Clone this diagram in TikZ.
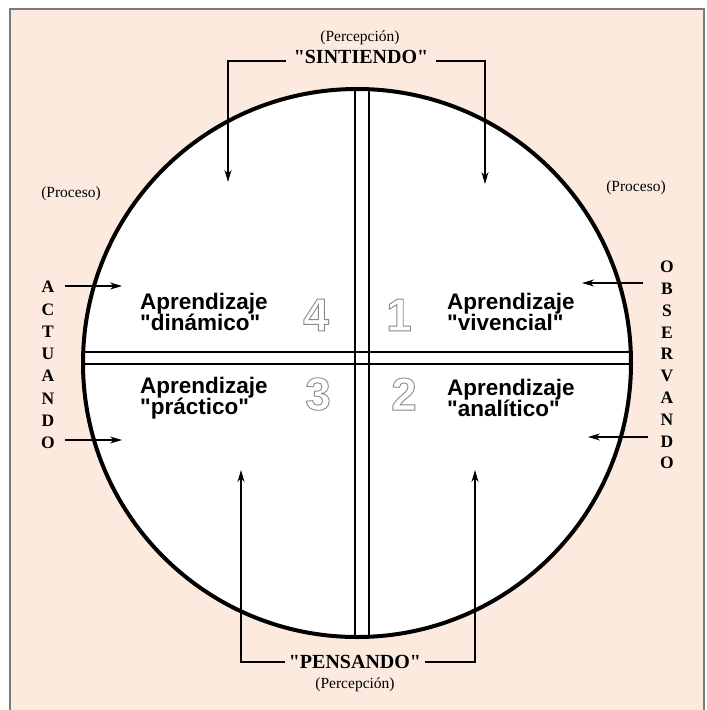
\documentclass[tikz,border=0pt]{standalone}
\usepackage{fontspec}
\setmainfont{Liberation Serif}
\newfontfamily\helv{Liberation Sans}
\usetikzlibrary{arrows.meta,positioning}
\definecolor{peach}{HTML}{FCEADE}
\definecolor{framegray}{HTML}{7A7A7A}
\newcommand{\hollow}[1]{\special{pdf:literal direct 1 Tr 0.9 w 0.54 0.54 0.54 RG}#1\special{pdf:literal direct 0 Tr}}

\begin{document}
\begin{tikzpicture}[x=1pt, y=-1pt,
    arr/.style={-{Stealth[length=12pt,width=7pt]}, line width=1.3pt},
    quad/.style={font=\helv\bfseries\fontsize{22.5}{21.5}\selectfont, align=left, anchor=west, inner sep=0pt},
    digit/.style={font=\helv\bfseries\fontsize{46}{46}\selectfont, inner sep=0pt},
    small/.style={font=\fontsize{15.5}{15.5}\selectfont, inner sep=0pt},
    big/.style={font=\bfseries\fontsize{20}{20}\selectfont, inner sep=0pt},
    vletter/.style={font=\bfseries\fontsize{17.5}{17.5}\selectfont, inner sep=0pt}
  ]
    \useasboundingbox (0,0) rectangle (707,710);
    % sheet and frame
    \fill[peach] (10,9) rectangle (704,710);
    \draw[framegray, line width=1.5pt] (10,710) -- (10,9) -- (704,9) -- (704,710);

    % the wheel
    \node[circle, draw, line width=4pt, fill=white, minimum size=548pt, inner sep=0pt] (wheel) at (357,363) {};
    \begin{scope}
      \clip (357,363) circle (272pt);
      \foreach \x in {355,369} \draw[line width=1.8pt] (\x,80) -- (\x,650);
      \foreach \y in {352,364} \draw[line width=1.8pt] (70,\y) -- (650,\y);
    \end{scope}

    % quadrants
    \node[digit] (n4) at (316,315) {\hollow{4}};
    \node[digit] (n1) at (399,315) {\hollow{1}};
    \node[digit] (n3) at (318,394) {\hollow{3}};
    \node[digit] (n2) at (404,394) {\hollow{2}};
    \node[quad] (q4) at (140,312) {Aprendizaje\\"dinámico"};
    \node[quad] (q1) at (447,312) {Aprendizaje\\"vivencial"};
    \node[quad] (q3) at (140,398) {Aprendizaje\\"práctico"};
    \node[quad] (q2) at (447,398) {Aprendizaje\\"analítico"};

    % labels
    \node[small] (percT) at (360,38) {(Percepción)};
    \node[big] (sint) at (361,57) {\textquotedbl SINTIENDO\textquotedbl};
    \node[big] (pens) at (355,662) {\textquotedbl PENSANDO\textquotedbl};
    \node[small] (percB) at (355,685) {(Percepción)};
    \node[small] (procL) at (71,194) {(Proceso)};
    \node[small] (procR) at (636,188) {(Proceso)};
    \foreach \ch [count=\i] in {A,C,T,U,A,N,D,O}
      \node[vletter] (act\i) at (48,{287+22.3*(\i-1)}) {\ch};
    \foreach \ch [count=\i] in {O,B,S,E,R,V,A,N,D,O}
      \node[vletter] (obs\i) at (667,{267+21.8*(\i-1)}) {\ch};

    % arrows
    \coordinate (tipTL) at (228,182);
    \coordinate (tipTR) at (485,184);
    \coordinate (tipBL) at (241,470);
    \coordinate (tipBR) at (475,470);
    \draw[arr] ([xshift=-8pt,yshift=-4pt]sint.west) -| (tipTL);
    \draw[arr] ([xshift=8pt,yshift=-4pt]sint.east) -| (tipTR);
    \draw[arr] ([xshift=-4pt]pens.west) -| (tipBL);
    \draw[arr] ([xshift=4pt]pens.east) -| (tipBR);
    \coordinate (inL1) at (65,286);
    \coordinate (tipL1) at (122,286);
    \coordinate (inL2) at (65,440);
    \coordinate (tipL2) at (122,440);
    \coordinate (inR1) at (643,283);
    \coordinate (tipR1) at (582,283);
    \coordinate (inR2) at (648,437);
    \coordinate (tipR2) at (588,437);
    \draw[arr] (inL1) -- (tipL1);
    \draw[arr] (inL2) -- (tipL2);
    \draw[arr] (inR1) -- (tipR1);
    \draw[arr] (inR2) -- (tipR2);
  \end{tikzpicture}
\end{document}
